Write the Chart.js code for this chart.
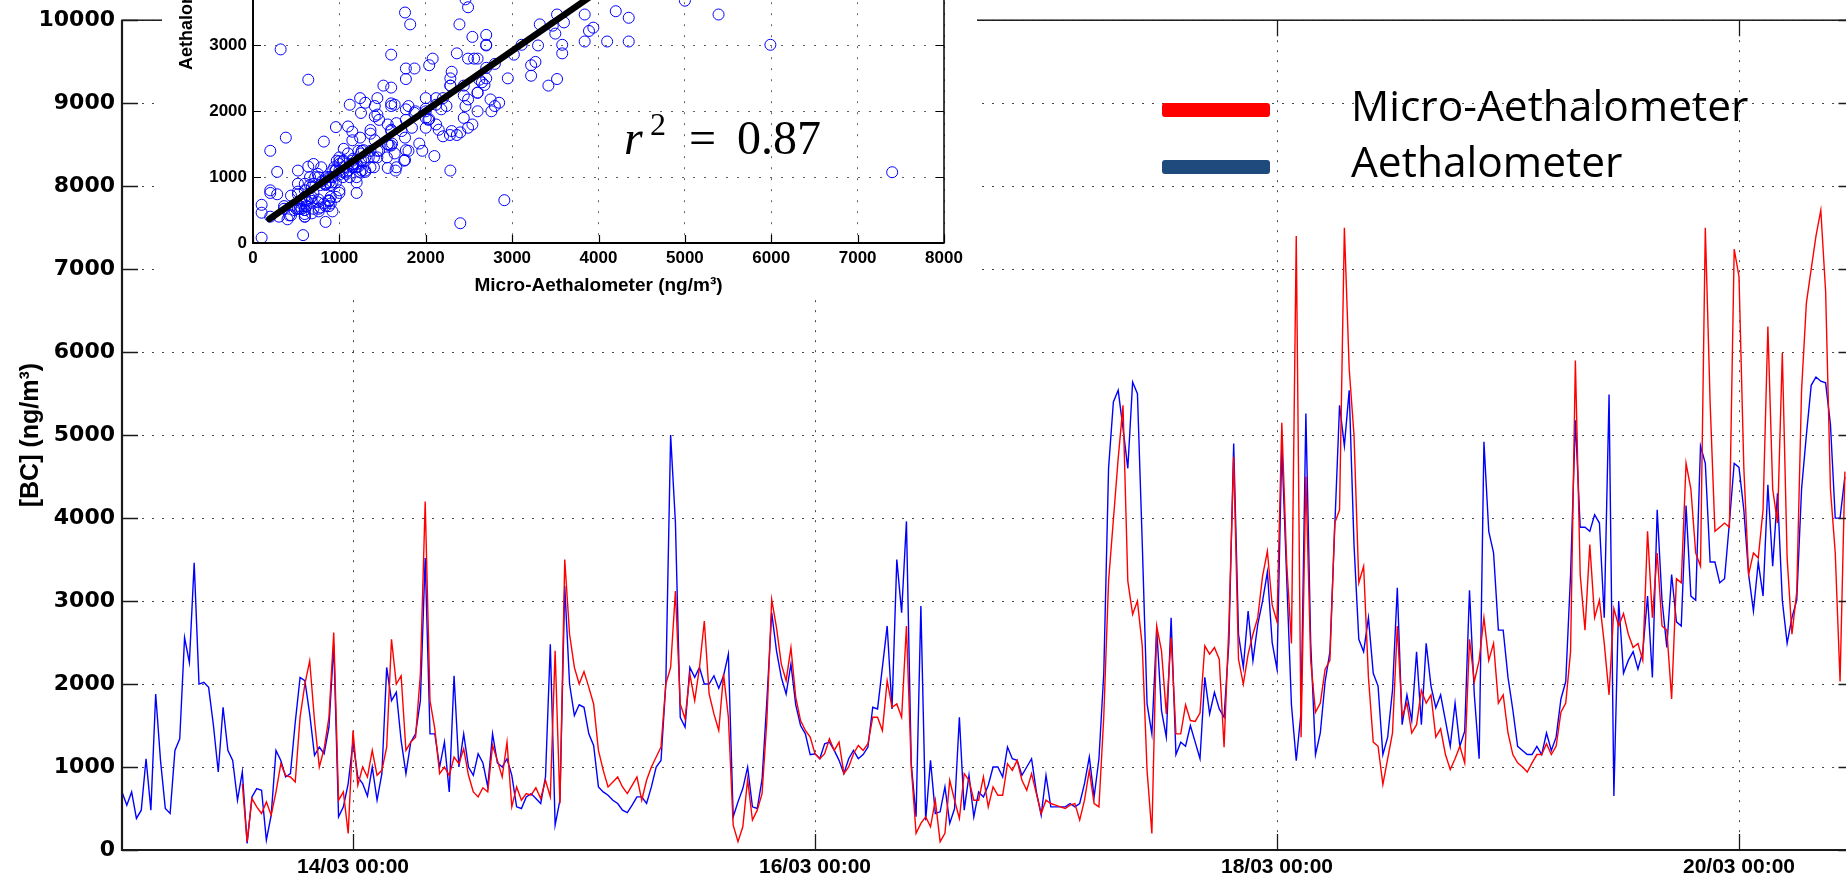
<!DOCTYPE html>
<html>
<head>
<meta charset="utf-8">
<script src="https://cdn.jsdelivr.net/npm/chart.js@4.4.1/dist/chart.umd.min.js"></script>
<style>
html,body{margin:0;padding:0;background:#fff;overflow:hidden;width:1846px;height:879px;}
#wrap{position:relative;width:1846px;height:879px;overflow:hidden;background:#fff;}
#main{position:absolute;left:0;top:0;}
#insetBox{position:absolute;left:162px;top:-300px;width:815px;height:600px;background:#fff;}
.lgbar{position:absolute;width:108px;height:14px;border-radius:3px;}
.lgtxt{position:absolute;font-family:'Open Sans',sans-serif;font-size:42.5px;line-height:42.5px;color:#000;white-space:nowrap;}
.r2{position:absolute;font-family:'Liberation Serif','DejaVu Serif',serif;color:#000;white-space:nowrap;}
</style>
</head>
<body>
<div id="wrap">
  <canvas id="main" width="1870" height="879"></canvas>
  <div id="insetBox"><canvas id="inset" width="815" height="600"></canvas></div>
  <div class="lgbar" style="left:1162px;top:103px;background:#ff0000;"></div>
  <div class="lgbar" style="left:1162px;top:160px;background:#1f4a7e;"></div>
  <div class="lgtxt" id="lg0" style="left:1351px;top:84px;"></div>
  <div class="lgtxt" id="lg1" style="left:1351px;top:140px;"></div>
  <div class="r2" style="left:624px;top:114px;font-size:48px;line-height:48px;font-style:italic;">r</div>
  <div class="r2" style="left:650px;top:108px;font-size:32px;line-height:32px;">2</div>
  <div class="r2" style="left:689px;top:114px;font-size:48px;line-height:48px;">=</div>
  <div class="r2" style="left:737px;top:114px;font-size:48px;line-height:48px;">0.87</div>
</div>
<script>
// ---------------- data ----------------
const seriesNames = ['Micro-Aethalometer', 'Aethalometer'];
const STEP_HOURS = 0.5;              // sampling step of the arrays below (hours)
const AETH_START_HOUR = 0;           // 13/03 00:00
const MICRO_START_HOUR = 12.5;       // 13/03 12:30

// Aethalometer [BC] (ng/m3), every 30 min from 13/03 00:00
const aethalometerBC = [
700,540,700,380,480,1100,480,1880,1080,500,440,1200,1340,2560,2260,3460,2000,2020,1960,1500,940,1720,1200,1080,
600,940,80,640,740,720,120,420,1200,1080,880,920,1540,2080,2040,1640,1140,1240,1160,1480,2480,400,520,800,
1300,880,800,650,1000,600,920,2200,1800,1900,1320,920,1300,1400,1800,3520,1400,1400,1000,1300,700,2100,1000,1400,
1000,900,1160,1050,760,1400,1050,1000,1100,900,520,500,640,680,620,560,880,2480,300,600,3180,2000,1620,1750,
1720,1400,1260,760,700,660,600,560,480,450,540,640,640,560,760,1000,1080,2000,5000,3940,1600,1480,2200,2080,
2200,2000,2000,2100,1950,2100,2360,400,580,740,1000,520,500,850,1800,2860,2400,2080,1880,2240,1750,1500,1400,1150,
1160,1100,1280,1300,1200,1080,920,1100,1200,1100,1150,1240,1720,1700,2200,2700,1700,3500,2860,3960,1040,400,2940,360,
1080,440,460,760,320,500,1600,480,900,400,700,640,780,1000,1000,880,1240,1100,1080,900,1000,1100,700,420,
900,520,520,520,520,560,520,560,800,1120,640,1100,2120,4600,5400,5540,5080,4600,5640,5500,3700,1760,1400,2660,
1680,1360,2800,1150,1300,1250,1500,1300,1100,2080,1640,1900,1700,1600,2500,4900,2600,2200,2880,2280,2720,3000,3350,2500,
2180,4870,3300,1750,1075,1660,5260,2500,1150,1410,2030,2390,3890,5360,4870,5540,3680,2540,2390,2800,2130,1975,1150,1360,
1925,3160,1510,1870,1560,2390,1510,2490,1975,1715,1870,1560,1250,1770,1250,1430,3130,1870,1100,4920,3840,3580,2650,2650,
2080,1690,1250,1200,1150,1150,1250,1150,1410,1200,1360,1820,2030,3320,5180,3890,3890,3840,4040,3940,2800,5490,650,3000,
2130,2285,2390,2180,2390,3060,2080,4100,3010,2440,3320,2750,2700,4150,3060,3010,4870,4660,3470,3470,3220,3270,3940,4660,
4610,4100,3320,2880,3470,3060,4400,3420,4300,3010,2490,2800,3010,4350,5000,5600,5700,5650,5630,5130,4000,4000,4500
];

// Micro-Aethalometer [BC] (ng/m3), every 30 min from 13/03 12:30
const microAethalometerBC = [
800,100,620,520,440,580,420,700,1040,900,880,820,1600,2000,2280,1560,1000,1220,1600,2620,600,700,200,
1440,780,1000,880,1200,900,960,1240,2540,2000,2100,1200,1300,1360,2120,4200,1800,1460,920,1000,900,1120,1040,1220,
900,700,640,750,700,1260,1080,880,1300,520,760,600,680,660,750,620,840,640,2400,560,3500,2600,2200,2000,
2150,1960,1760,1200,960,760,820,880,760,680,780,880,600,840,1000,1120,1240,2000,2200,3120,1760,1580,2120,1800,
2200,2760,1880,1640,1440,2120,1600,300,100,280,850,360,480,680,1560,3020,2680,2240,2040,2440,1840,1560,1440,1360,
1160,1100,1160,1340,1200,1300,920,1000,1160,1260,1200,1280,1600,1600,1440,2040,1720,1760,1600,2700,1000,200,320,400,
280,600,100,200,840,600,380,920,840,600,600,880,520,760,660,660,1040,960,1080,840,720,920,680,440,
600,560,540,520,500,540,560,360,600,960,560,520,1600,3240,3980,4720,5360,3240,2840,3000,2460,960,200,2700,
2400,1640,2560,1400,1400,1750,1560,1550,1650,2460,2360,2440,2300,1240,2700,4740,2300,2000,2360,2600,2800,3300,3600,2950,
2750,5150,3470,2490,7400,1360,4500,2285,1660,1770,2180,2285,3940,4100,7500,5800,5000,3220,3420,2080,1300,1250,790,1100,
1410,2700,1610,1770,1410,1510,1925,1770,1870,1360,1460,1150,970,1100,1250,1050,2540,2030,2285,2800,2285,2490,1770,1870,
1410,1150,1050,1000,940,1050,1150,1150,1280,1150,1250,1660,1770,2390,5900,3320,2650,3680,2800,3010,2490,1870,2910,2700,
2850,2600,2440,2490,2285,3840,2800,3580,2700,2650,1820,3270,3220,4660,4350,3580,3420,7500,5390,3840,3890,3940,3890,7240,
6910,4610,3320,3580,3520,4100,6310,4350,3940,5990,3520,2600,3110,5540,6590,7000,7400,7710,6730,4350,3580,2030,4560
];

// x axis: hours since 13/03 00:00
const xRangeHours = [0, 180];
const xTickHours  = [24, 72, 120, 168];
const xTickLabels = ['14/03 00:00', '16/03 00:00', '18/03 00:00', '20/03 00:00'];
const yRange = [0, 10000];
const yStep = 1000;

// inset (scatter) axes and fitted line
const insetRange = [0, 8000];
const insetStep = 1000;
const fitLineX = [190, 4500];
const fitLineY = [365, 4280];

// ---------------- build chart data ----------------
const toPoints = (vals, start) => vals.map((v, i) => ({x: start + i * STEP_HOURS, y: v}));
const aethPoints  = toPoints(aethalometerBC, AETH_START_HOUR);
const microPoints = toPoints(microAethalometerBC, MICRO_START_HOUR);
const pairOffset = Math.round((MICRO_START_HOUR - AETH_START_HOUR) / STEP_HOURS);
const scatterPoints = microAethalometerBC
  .map((m, i) => ({x: m, y: aethalometerBC[i + pairOffset]}))
  .filter(p => p.y !== undefined);
const fitPoints = fitLineX.map((x, i) => ({x, y: fitLineY[i]}));

document.getElementById('lg0').textContent = seriesNames[0];
document.getElementById('lg1').textContent = seriesNames[1];

const FONT = "'Liberation Sans', Arial, Helvetica, sans-serif";
const WIDE_FONT = "'DejaVu Sans', 'Liberation Sans', sans-serif";
const plainNumber = v => String(v);

const frameAndTicks = {
  id: 'frameAndTicks',
  afterDatasetsDraw(chart, args, o) {
    const {ctx, chartArea: a} = chart;
    const x = chart.scales.x, y = chart.scales.y;
    ctx.save();
    ctx.strokeStyle = o.color;
    ctx.lineWidth = o.tickWidth;
    ctx.beginPath();
    y.ticks.forEach(t => {
      const p = Math.round(y.getPixelForValue(t.value)) + 0.5;
      ctx.moveTo(a.left, p); ctx.lineTo(a.left + o.len, p);
      ctx.moveTo(a.right, p); ctx.lineTo(a.right - o.len, p);
    });
    x.ticks.forEach(t => {
      const p = Math.round(x.getPixelForValue(t.value)) + 0.5;
      ctx.moveTo(p, a.bottom); ctx.lineTo(p, a.bottom - o.len);
      ctx.moveTo(p, a.top); ctx.lineTo(p, a.top + o.len);
    });
    ctx.stroke();
    ctx.lineWidth = o.frameWidth;
    ctx.strokeRect(a.left, a.top, a.right - a.left, a.bottom - a.top);
    ctx.lineWidth = o.axisWidth;
    ctx.beginPath();
    ctx.moveTo(a.left, a.top); ctx.lineTo(a.left, a.bottom); ctx.lineTo(a.right, a.bottom);
    ctx.stroke();
    ctx.restore();
  }
};

// ---------------- main time series ----------------
new Chart(document.getElementById('main'), {
  type: 'line',
  data: {
    datasets: [
      {label: seriesNames[0], data: microPoints, borderColor: '#ff0000', borderWidth: 1.4,
       pointRadius: 0, tension: 0, fill: false, order: 0},
      {label: seriesNames[1], data: aethPoints, borderColor: '#0000ff', borderWidth: 1.4,
       pointRadius: 0, tension: 0, fill: false, order: 1}
    ]
  },
  options: {
    responsive: false, animation: false, devicePixelRatio: 1,
    layout: {padding: {left: 0, top: 10, right: 15.5, bottom: 0}},
    plugins: {
      legend: {display: false}, tooltip: {enabled: false},
      frameAndTicks: {color: '#1a1a1a', len: 16, tickWidth: 1.3, frameWidth: 1.5, axisWidth: 2.2}
    },
    scales: {
      x: {
        type: 'linear', min: xRangeHours[0], max: xRangeHours[1],
        afterBuildTicks: s => { s.ticks = xTickHours.map(v => ({value: v})); },
        afterFit: s => { s.height = 29; },
        ticks: {callback: (v, i) => xTickLabels[i], autoSkip: false, maxRotation: 0,
                color: '#000', padding: 5, font: {family: FONT, size: 21, weight: 'bold'}},
        grid: {color: 'rgba(40,40,40,0.85)', lineWidth: 1, drawTicks: false},
        border: {display: false, dash: [2, 8]}
      },
      y: {
        min: yRange[0], max: yRange[1],
        afterFit: s => { s.width = 122; },
        ticks: {stepSize: yStep, color: '#000', padding: 7, callback: plainNumber,
                font: {family: WIDE_FONT, size: 22, weight: 'bold'}},
        grid: {color: 'rgba(40,40,40,0.85)', lineWidth: 1, drawTicks: false},
        border: {display: false, dash: [2, 8]},
        title: {display: true, text: '[BC] (ng/m³)', color: '#000',
                font: {family: FONT, size: 25, weight: 'bold'}, padding: {top: 16, bottom: 0}}
      }
    }
  },
  plugins: [frameAndTicks]
});

// ---------------- inset scatter ----------------
new Chart(document.getElementById('inset'), {
  type: 'scatter',
  data: {
    datasets: [
      {type: 'line', data: fitPoints, borderColor: '#000', borderWidth: 6.5, pointRadius: 0,
       borderCapStyle: 'round', order: 0},
      {data: scatterPoints, pointStyle: 'circle', pointRadius: 5.5, borderColor: '#0000ff',
       backgroundColor: 'rgba(0,0,0,0)', borderWidth: 1, order: 1}
    ]
  },
  options: {
    responsive: false, animation: false, devicePixelRatio: 1,
    layout: {padding: {left: 0, top: 0, right: 33, bottom: 0}},
    plugins: {
      legend: {display: false}, tooltip: {enabled: false},
      frameAndTicks: {color: '#000', len: 8, tickWidth: 1.2, frameWidth: 1.5, axisWidth: 1.8}
    },
    scales: {
      x: {
        type: 'linear', min: insetRange[0], max: insetRange[1],
        afterFit: s => { s.height = 57; },
        ticks: {stepSize: insetStep, color: '#000', padding: 5, maxRotation: 0, callback: plainNumber,
                font: {family: FONT, size: 17, weight: 'bold'}},
        grid: {color: 'rgba(60,60,60,0.8)', lineWidth: 1, drawTicks: false},
        border: {display: false, dash: [2, 9]},
        title: {display: true, text: 'Micro-Aethalometer (ng/m³)', color: '#000',
                font: {family: FONT, size: 19, weight: 'bold'}, padding: {top: 0, bottom: 3}}
      },
      y: {
        type: 'linear', min: insetRange[0], max: insetRange[1],
        afterFit: s => { s.width = 91; },
        ticks: {stepSize: insetStep, color: '#000', padding: 6, callback: plainNumber,
                font: {family: FONT, size: 17, weight: 'bold'}},
        grid: {color: 'rgba(60,60,60,0.8)', lineWidth: 1, drawTicks: false},
        border: {display: false, dash: [2, 9]},
        title: {display: true, text: 'Aethalometer (ng/m³)', color: '#000',
                font: {family: FONT, size: 18, weight: 'bold'}, padding: {top: 14, bottom: 0}}
      }
    }
  },
  plugins: [frameAndTicks]
});
</script>
</body>
</html>
